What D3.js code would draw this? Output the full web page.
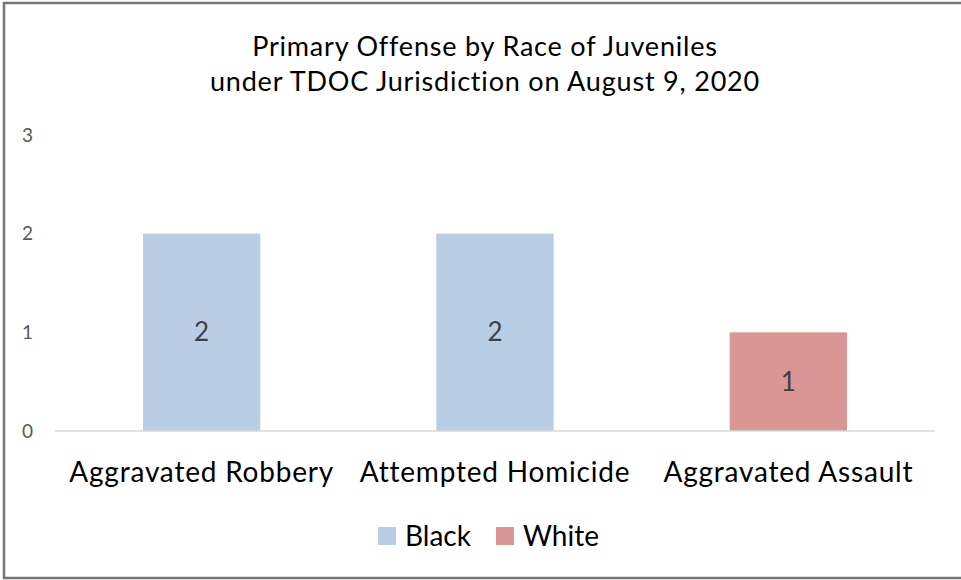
<!DOCTYPE html>
<html>
<head>
<meta charset="utf-8">
<script src="https://cdn.jsdelivr.net/npm/d3@7"></script>
<style>
  body { margin: 0; background: #fff; }
  text { font-family: Lato, "Open Sans", sans-serif; }
</style>
</head>
<body>
<svg id="chart"></svg>
<script>
// data
var categories = ["Aggravated Robbery", "Attempted Homicide", "Aggravated Assault"];
var races = ["Black", "White"];
var barRace = ["Black", "Black", "White"];
var barValues = [2, 2, 1];
var yTicks = [0, 1, 2, 3];
var titleLines = ["Primary Offense by Race of Juveniles", "under TDOC Jurisdiction on August 9, 2020"];

var chart_width = 961;
var chart_height = 580;
var margin = { top: 135, right: 26, bottom: 149, left: 55 };
var raceColor = { "Black": "#b9cde5", "White": "#d99694" };

var svg = d3.select("#chart")
    .attr("width", chart_width)
    .attr("height", chart_height);

// outer frame (right side is cut off in the original)
svg.append("rect")
    .attr("x", 4).attr("y", 3)
    .attr("width", chart_width + 10).attr("height", chart_height - 5)
    .attr("fill", "#fff")
    .attr("stroke", "#767676")
    .attr("stroke-width", 2.5);

var width = chart_width - margin.left - margin.right;
var height = chart_height - margin.top - margin.bottom;

var g = svg.append("g")
    .attr("transform", "translate(" + margin.left + "," + margin.top + ")");

var xScale = d3.scaleBand()
    .domain(categories)
    .range([0, width])
    .paddingInner(0.6)
    .paddingOuter(0.3);

var yScale = d3.scaleLinear()
    .domain([0, 3])
    .range([height, 0]);

// title
svg.append("g").selectAll("text")
    .data(titleLines)
    .enter()
    .append("text")
    .attr("x", 485)
    .attr("y", (d, i) => 56 + i * 35)
    .attr("text-anchor", "middle")
    .attr("fill", "#000")
    .style("font-size", "27px")
    .style("letter-spacing", "0.8px")
    .text(d => d);

// y tick labels (no axis line)
g.append("g").selectAll("text")
    .data(yTicks)
    .enter()
    .append("text")
    .attr("x", -22)
    .attr("y", d => yScale(d))
    .attr("dy", "0.35em")
    .attr("text-anchor", "end")
    .attr("fill", "#595959")
    .style("font-size", "19px")
    .text(d => d);

// bars
g.append("g").selectAll("rect")
    .data(barValues)
    .enter()
    .append("rect")
    .attr("x", (d, i) => xScale(categories[i]))
    .attr("y", d => yScale(d))
    .attr("width", xScale.bandwidth())
    .attr("height", d => yScale(0) - yScale(d))
    .attr("fill", (d, i) => raceColor[barRace[i]]);

// value labels in the middle of the bars
g.append("g").selectAll("text")
    .data(barValues)
    .enter()
    .append("text")
    .attr("x", (d, i) => xScale(categories[i]) + xScale.bandwidth() / 2)
    .attr("y", d => (yScale(d) + yScale(0)) / 2)
    .attr("dy", "0.35em")
    .attr("text-anchor", "middle")
    .attr("fill", "#404040")
    .style("font-size", "26px")
    .text(d => d);

// baseline
g.append("line")
    .attr("x1", 0).attr("x2", width)
    .attr("y1", yScale(0)).attr("y2", yScale(0))
    .attr("stroke", "#d9d9d9")
    .attr("stroke-width", 1.5);

// category labels
var xAxis = g.append("g")
    .attr("transform", "translate(0," + height + ")")
    .call(d3.axisBottom(xScale).tickSize(0).tickPadding(31));
xAxis.select(".domain").remove();
xAxis.selectAll("text")
    .attr("fill", "#000")
    .style("font-family", "Lato, 'Open Sans', sans-serif")
    .style("font-size", "28px")
    .style("letter-spacing", "0.8px");

// legend
var legend = svg.append("g").attr("transform", "translate(378,527)");
var legendX = [0, 118];
var item = legend.selectAll("g")
    .data(races)
    .enter()
    .append("g")
    .attr("transform", (d, i) => "translate(" + legendX[i] + ",0)");
item.append("rect")
    .attr("width", 18).attr("height", 18)
    .attr("fill", d => raceColor[d]);
item.append("text")
    .attr("x", 27).attr("y", 9)
    .attr("dy", "0.35em")
    .attr("fill", "#000")
    .style("font-size", "28px")
    .text(d => d);
</script>
</body>
</html>
